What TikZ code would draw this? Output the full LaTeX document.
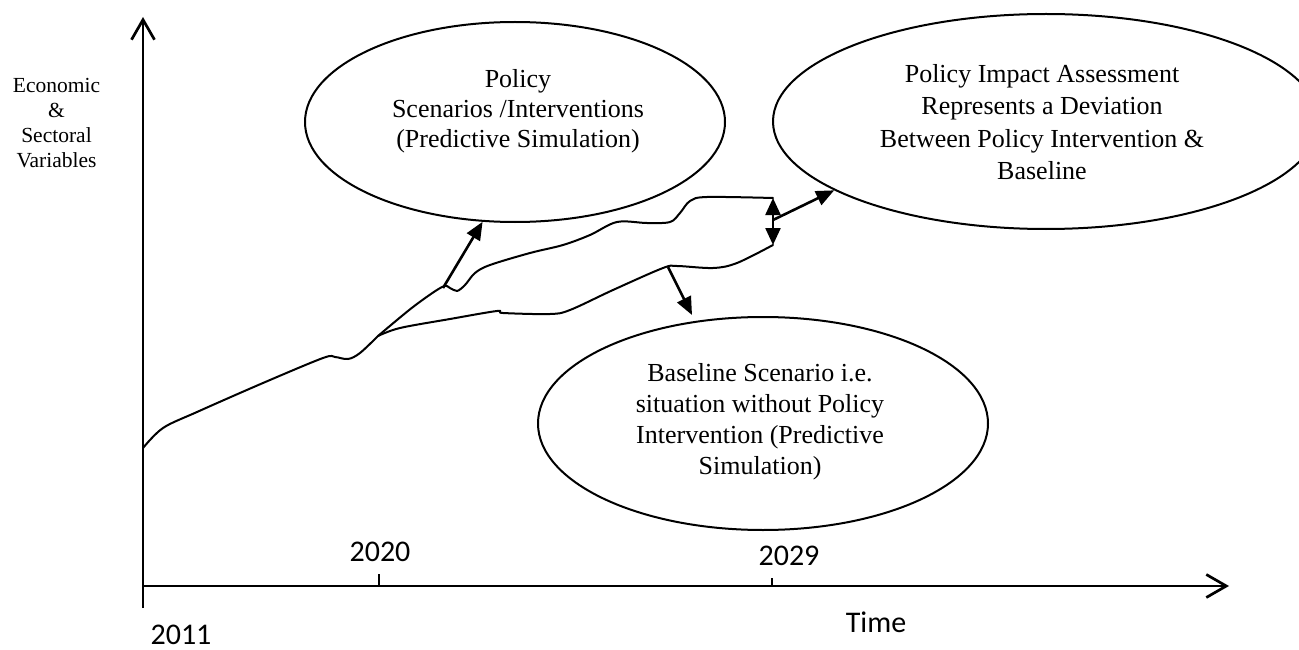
\documentclass[tikz,border=0pt]{standalone}
\usepackage{fontspec}
\setmainfont{Liberation Serif}
\newfontfamily\calfont{Carlito}
\usetikzlibrary{arrows.meta,shapes.geometric}

\begin{document}
\begin{tikzpicture}[x=1pt,y=-1pt,
  axisline/.style={line width=2.7pt,-{Straight Barb[length=20pt,width=23pt]}},
  tickline/.style={line width=1.5pt},
  ell/.style={draw,ellipse,line width=2pt,inner sep=0pt},
  curve/.style={line width=2pt,line join=round,line cap=round},
  pointer/.style={line width=2.6pt,-{Triangle[length=18pt,width=15pt]}},
  twoway/.style={line width=2.4pt,{Triangle[length=17pt,width=15pt]}-{Triangle[length=17pt,width=15pt]}},
  boxtext/.style={align=center,inner sep=0pt,font=\fontsize{26}{31}\selectfont},
  yeartext/.style={anchor=base,inner sep=0pt,font=\calfont\fontsize{30}{36}\selectfont}
]
\useasboundingbox (0,0) rectangle (1299,650);
\clip (0,0) rectangle (1299,650);

% axes
\coordinate (O) at (143,586);
\coordinate (ytop) at (143,17);
\coordinate (ybot) at (143,608);
\coordinate (xend) at (1229,586);
\draw[axisline] (ybot) -- (ytop);
\draw[axisline] (142,586) -- (xend);
\draw[tickline] (379,586) -- (379,574);
\draw[tickline] (772,586) -- (772,578);

% axis labels
\node[align=center,inner sep=0pt,font=\fontsize{21.5}{25}\selectfont] (ylab) at (56.5,123)
  {Economic\\\&\\Sectoral\\Variables};
\node[yeartext] (y2011) at (181,644) {2011};
\node[yeartext] (y2020) at (380,561.7) {2020};
\node[yeartext] (y2029) at (789,565) {2029};
\node[yeartext] (tlab) at (876,632.7) {Time};

% ellipses
\node[ell,minimum width=420pt,minimum height=200pt] (pol) at (515,122) {};
\node[ell,minimum width=546pt,minimum height=215pt] (imp) at (1046,121.5) {};
\node[ell,minimum width=450pt,minimum height=213pt] (base) at (763,423.5) {};

\node[boxtext,font=\fontsize{26}{30}\selectfont] (tpol) at (518,111) {Policy\\Scenarios /Interventions\\(Predictive Simulation)};
\node[boxtext,font=\fontsize{26}{32.5}\selectfont] (timp) at (1042,122) {Policy Impact Assessment\\Represents a Deviation\\Between Policy Intervention \&\\Baseline};
\node[boxtext] (tbase) at (760,422) {Baseline Scenario i.e.\\situation without Policy\\Intervention (Predictive\\Simulation)};

% trajectories
\coordinate (br) at (378,336);
\draw[curve] plot[smooth,tension=0.55] coordinates {(143,448) (163,428) (197,412) (263,383) (323,358) (335,357) (348,359) (360,353) (378,336)};
\draw[curve] plot[smooth,tension=0.55] coordinates {(378,336) (413,307) (442,287) (450,288) (457,291) (465,285) (475,273) (490,265) (530,253) (563,245) (590,235) (617,222) (647,223) (670,222) (680,213) (690,201) (707,197) (773,198)};
\draw[curve] plot[smooth,tension=0.55] coordinates {(378,336) (400,328) (450,319) (497,311) (503,313) (550,314) (570,310) (613,290) (663,268) (677,266) (713,268) (737,263) (773,245)};

% pointers
\coordinate (pa) at (443,288);
\coordinate (bs) at (668,267);
\coordinate (bt) at (692,315);
\coordinate (up) at (773,198);
\coordinate (lo) at (773,245);
\coordinate (mid) at (773,220);
\draw[pointer] (pa) -- (pol.252);
\draw[pointer] (bs) -- (bt);
\draw[twoway] (lo) -- (up);
\draw[pointer] (mid) -- (imp.198);
\end{tikzpicture}
\end{document}
